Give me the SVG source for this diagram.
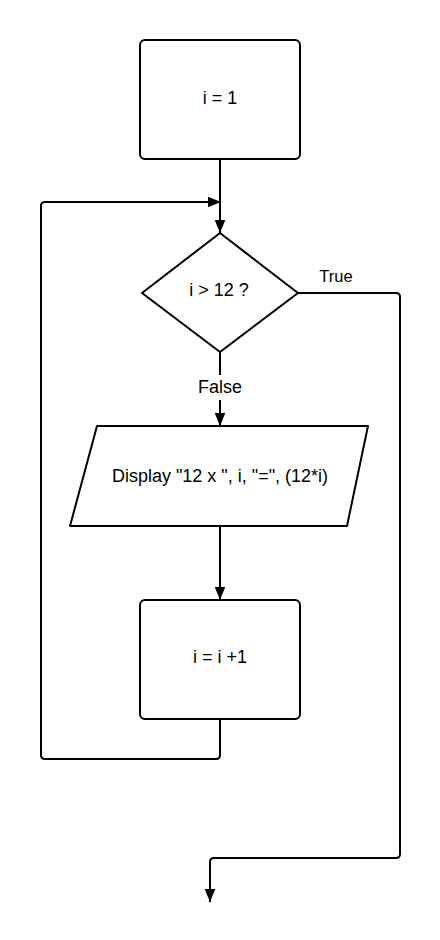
<svg xmlns="http://www.w3.org/2000/svg" width="440" height="940" viewBox="0 0 440 940">
<defs>
<marker id="arr" markerWidth="13" markerHeight="16" refX="16" refY="6.5" viewBox="0 0 16 13" markerUnits="userSpaceOnUse" orient="auto">
<path d="M0,0 L16,6.5 L0,13 Z" fill="#000"/>
</marker>
<style>
.shape{fill:#fff;stroke:#000;stroke-width:2;stroke-linejoin:round}
.conn{fill:none;stroke:#000;stroke-width:2;stroke-linejoin:round}
text{font-family:"Liberation Sans",Arial,sans-serif;font-size:18px;fill:#000;text-anchor:middle}
</style>
</defs>
<rect width="440" height="940" fill="#fff"/>
<g id="connectors">
<path class="conn" d="M220,159 V233" marker-end="url(#arr)"/>
<path class="conn" d="M220,719 V755 Q220,759 216,759 H45 Q41,759 41,755 V206 Q41,202 45,202 H221" marker-end="url(#arr)"/>
<path class="conn" d="M298,293 H396 Q400,293 400,297 V854 Q400,858 396,858 H214 Q210,858 210,862 V902" marker-end="url(#arr)"/>
<path class="conn" d="M220,352 V375"/>
<path class="conn" d="M220,400 V426" marker-end="url(#arr)"/>
<path class="conn" d="M220,526 V600" marker-end="url(#arr)"/>
<text x="336" y="282" style="font-size:16.5px">True</text>
<text x="220" y="393">False</text>
</g>
<g id="start">
<rect class="shape" x="140" y="40" width="160" height="119" rx="5"/>
<text x="220" y="104">i = 1</text>
</g>
<g id="decision">
<path class="shape" d="M220,233 L298,293 L220,352 L142,293 Z"/>
<text x="219" y="296">i &gt; 12 ?</text>
</g>
<g id="display">
<path class="shape" d="M97,426 H368 L347,526 H70 Z"/>
<text x="220" y="482">Display "12 x ", i, "=", (12*i)</text>
</g>
<g id="increment">
<rect class="shape" x="140" y="600" width="160" height="119" rx="5"/>
<text x="220" y="663">i = i +1</text>
</g>
</svg>
